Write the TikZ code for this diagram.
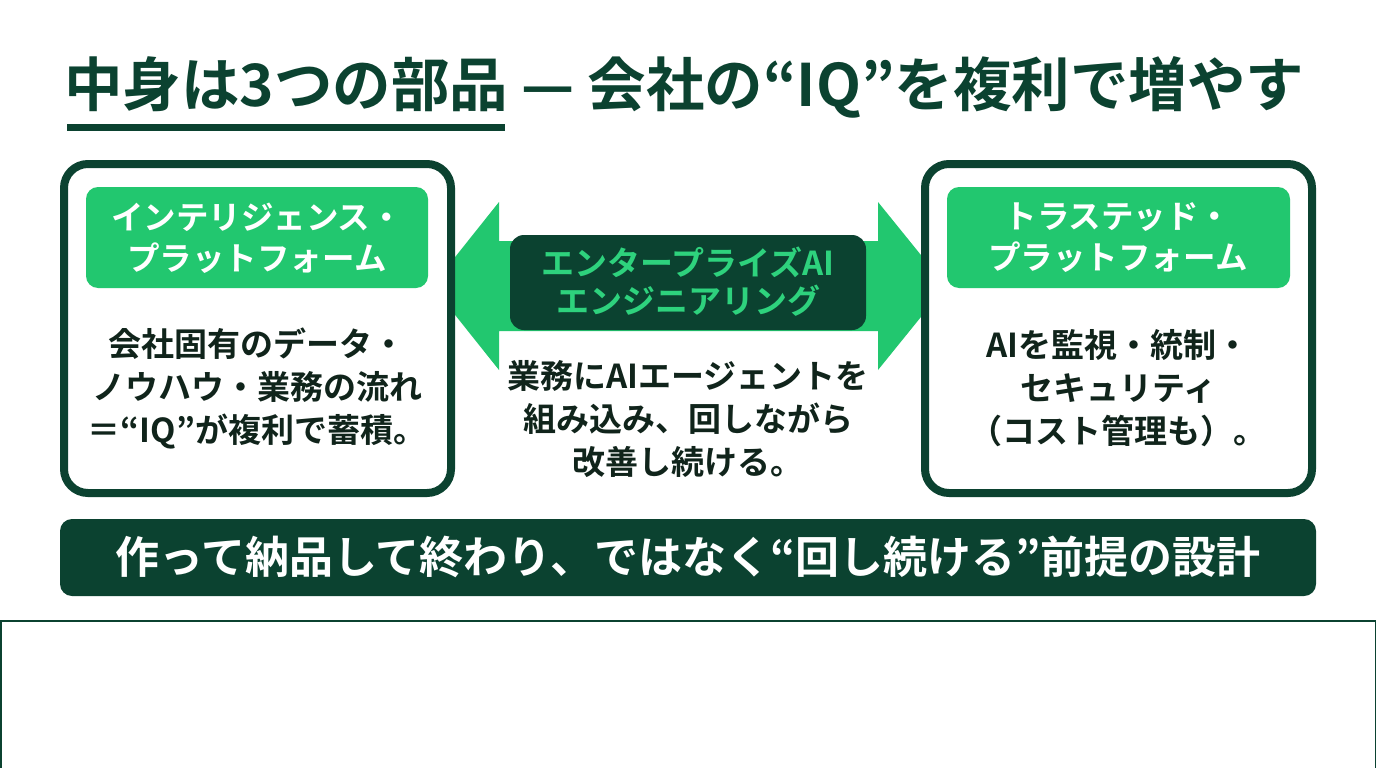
\documentclass[tikz,border=0pt]{standalone}
\usepackage{fontspec}
\setmainfont{Noto Sans CJK JP}[BoldFont={Noto Sans CJK JP Bold}]
\definecolor{dkgreen}{HTML}{0B4230}
\definecolor{brgreen}{HTML}{22C76F}
\definecolor{txgreen}{HTML}{2ED27D}
\definecolor{ink}{HTML}{10241B}
\tikzset{
  outerbox/.style={draw=dkgreen,line width=8pt,rounded corners=24pt,fill=white},
  labelbox/.style={fill=brgreen,rounded corners=12pt},
  labeltext/.style={text=white,font=\bfseries\fontsize{32.5}{41}\selectfont,align=center},
  bodytext/.style={text=ink,font=\bfseries\fontsize{33}{43}\selectfont,align=center},
}
\begin{document}
\begin{tikzpicture}[x=1pt,y=-1pt]
\useasboundingbox (0,0) rectangle (1376,768);
\fill[white] (0,0) rectangle (1376,768);
% title
\node[anchor=west,text=dkgreen,font=\bfseries\fontsize{58.5}{64}\selectfont,inner sep=0pt] (title) at (64,87) {中身は3つの部品 — 会社の“IQ”を複利で増やす};
\fill[dkgreen] (67,124) rectangle (505,131);
% arrow
\fill[brgreen] (432,286) -- (499,202) -- (499,241) -- (878,241) -- (878,202) -- (946,286) -- (878,370) -- (878,331) -- (499,331) -- (499,370) -- cycle;
% boxes
\draw[outerbox] (64,164) rectangle (451,493);
\draw[outerbox] (925,164) rectangle (1312,493);
\fill[labelbox] (86,187) rectangle (428,288);
\fill[labelbox] (947,187) rectangle (1290,288);
\node[labeltext] (ltitle) at (257,238) {インテリジェンス・\\プラットフォーム};
\node[labeltext] (rtitle) at (1118,238) {トラステッド・\\プラットフォーム};
\node[bodytext] (lbody) at (257,388) {会社固有のデータ・\\ノウハウ・業務の流れ\\＝“IQ”が複利で蓄積。};
\node[bodytext] (rbody) at (1118,388) {AIを監視・統制・\\セキュリティ\\（コスト管理も）。};
% center
\fill[dkgreen,rounded corners=14pt] (510,235) rectangle (866,330);
\node[text=txgreen,font=\bfseries\fontsize{33}{38}\selectfont,align=center] (ctitle) at (688,282) {エンタープライズAI\\エンジニアリング};
\node[bodytext] (cbody) at (688,419) {業務にAIエージェントを\\組み込み、回しながら\\改善し続ける。};
% bottom bar
\fill[dkgreen,rounded corners=12pt] (60,519) rectangle (1316,596);
\node[text=white,font=\bfseries\fontsize{44}{48}\selectfont] (bar) at (688,557) {作って納品して終わり、ではなく“回し続ける”前提の設計};
% bottom frame
\draw[dkgreen,line width=1.5pt] (0.75,780) -- (0.75,620.75) -- (1375.25,620.75) -- (1375.25,780);
\end{tikzpicture}
\end{document}
